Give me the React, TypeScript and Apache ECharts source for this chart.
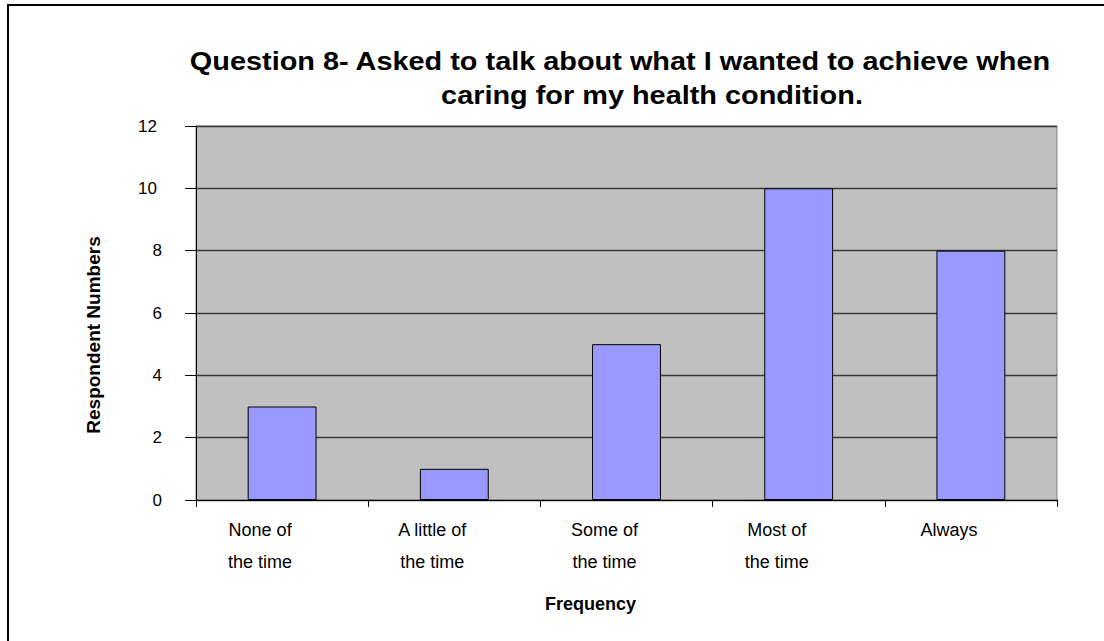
import React, { useEffect, useRef } from "react";
import * as echarts from "echarts";

const categories = [
  "None of\nthe time",
  "A little of\nthe time",
  "Some of\nthe time",
  "Most of\nthe time",
  "Always",
];
const respondents = [3, 1, 5, 10, 8];
const titleLines = [
  "Question 8- Asked to talk about what I wanted to achieve when",
  "caring for my health condition.",
];
const yAxisTitle = "Respondent Numbers";
const xAxisTitle = "Frequency";

const FONT = "'Liberation Sans', Arial, sans-serif";
const TITLE_STRETCH = 1.155;

export default function App() {
  const ref = useRef<HTMLDivElement>(null);

  useEffect(() => {
    if (!ref.current) return;
    const chart = echarts.init(ref.current, null, { renderer: "svg" });
    const titleStyle = {
      fontFamily: FONT,
      fontSize: 25,
      fontWeight: "bold",
      fill: "#000",
      textAlign: "center",
      textVerticalAlign: "middle",
    };
    chart.setOption({
      animation: false,
      backgroundColor: "#ffffff",
      graphic: [
        {
          type: "rect",
          shape: { x: 8, y: 5, width: 1200, height: 800 },
          style: { fill: "none", stroke: "#000", lineWidth: 2 },
          silent: true,
        },
        {
          type: "text",
          x: 620,
          y: 62,
          scaleX: TITLE_STRETCH,
          style: { ...titleStyle, text: titleLines[0] },
        },
        {
          type: "text",
          x: 652,
          y: 96,
          scaleX: TITLE_STRETCH,
          style: { ...titleStyle, text: titleLines[1] },
        },
        {
          type: "text",
          x: 93,
          y: 335,
          rotation: Math.PI / 2,
          style: {
            text: yAxisTitle,
            fontFamily: FONT,
            fontSize: 19,
            fontWeight: "bold",
            fill: "#000",
            textAlign: "center",
            textVerticalAlign: "middle",
          },
        },
      ],
      grid: {
        left: 196,
        top: 126,
        right: 47,
        bottom: 141,
        show: true,
        backgroundColor: "#C0C0C0",
        borderColor: "#808080",
        borderWidth: 1,
      },
      xAxis: {
        type: "category",
        data: categories,
        name: xAxisTitle,
        nameLocation: "middle",
        nameGap: 95,
        nameTextStyle: {
          fontFamily: FONT,
          fontSize: 18,
          fontWeight: "bold",
          color: "#000",
          padding: [0, 72, 0, 0],
        },
        axisLine: { show: true, lineStyle: { color: "#000", width: 1 } },
        axisTick: { show: true, length: 7, lineStyle: { color: "#000" } },
        axisLabel: {
          interval: 0,
          margin: 14,
          fontFamily: FONT,
          fontSize: 18,
          lineHeight: 32,
          color: "#000",
          padding: [0, 44, 0, 0],
        },
      },
      yAxis: {
        type: "value",
        min: 0,
        max: 12,
        interval: 2,
        axisLine: { show: true, lineStyle: { color: "#000", width: 1 } },
        axisTick: { show: true, length: 11, lineStyle: { color: "#000" } },
        axisLabel: {
          margin: 34,
          fontFamily: FONT,
          fontSize: 17,
          color: "#000",
          formatter: (v: number) => (v >= 10 ? `{w|${v}}` : `${v}`),
          rich: {
            w: { fontFamily: FONT, fontSize: 17, color: "#000", padding: [0, 5, 0, 0] },
          },
        },
        splitLine: { show: true, lineStyle: { color: "#383838", width: 1.3 } },
      },
      series: [
        {
          type: "bar",
          data: respondents,
          barWidth: "40%",
          itemStyle: { color: "#9999FF", borderColor: "#000", borderWidth: 1 },
        },
      ],
    });
    return () => chart.dispose();
  }, []);

  return (
    <div
      ref={ref}
      style={{ position: "fixed", left: 0, top: 0, width: 1104, height: 641 }}
    />
  );
}
